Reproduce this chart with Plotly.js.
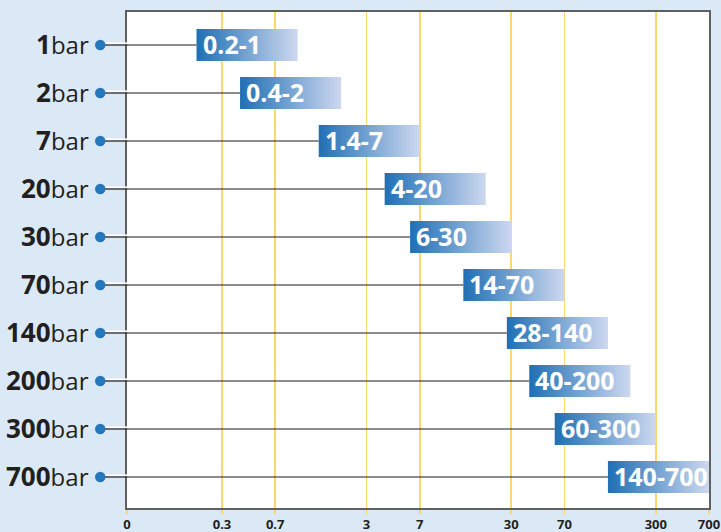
<!DOCTYPE html>
<html>
<head>
<meta charset="utf-8">
<script src="https://cdn.plot.ly/plotly-3.0.1.min.js"></script>
<style>html,body{margin:0;padding:0;background:#dbe9f6;}#chart{width:721px;height:532px;}</style>
</head>
<body>
<div id="chart"></div>
<script>
// ---- data ----
const pressureLabels = ['1','2','7','20','30','70','140','200','300','700'];
const rangeLow  = [0.2, 0.4, 1.4, 4, 6, 14, 28, 40, 60, 140];
const rangeHigh = [1, 2, 7, 20, 30, 70, 140, 200, 300, 700];
const rangeText = ['0.2-1','0.4-2','1.4-7','4-20','6-30','14-70','28-140','40-200','60-300','140-700'];
const tickValues = [0.3, 0.7, 3, 7, 30, 70, 300, 700];
const tickLabels = ['0.3','0.7','3','7','30','70','300','700'];
const axisMin = 0.0661;
const axisMax = 700;

// ---- styles ----
const FONT = 'Open Sans, Noto Sans, sans-serif';
const TEXT_COL = '#231f20';
const BAR_HALF = 0.333;
const gradient = [[0, '#1f6fb5'], [1, '#cdd8ef']];

const traces = [];
const annotations = [];
const shapes = [];

pressureLabels.forEach((p, i) => {
  // connector line inside plot
  traces.push({
    x: [axisMin, rangeLow[i]], y: [i, i],
    mode: 'lines', line: {color: '#1a1a1a', width: 1.2},
    hoverinfo: 'skip', showlegend: false
  });
});

pressureLabels.forEach((p, i) => {
  const lo = rangeLow[i], hi = rangeHigh[i];
  traces.push({
    x: [lo, hi, hi, lo, lo],
    y: [i - BAR_HALF, i - BAR_HALF, i + BAR_HALF, i + BAR_HALF, i - BAR_HALF],
    mode: 'lines', line: {width: 0, color: 'rgba(0,0,0,0)'},
    fill: 'toself',
    fillgradient: {type: 'horizontal', colorscale: gradient},
    hoverinfo: 'skip', showlegend: false
  });
  annotations.push({
    x: Math.log10(lo), y: i, xref: 'x', yref: 'y',
    text: rangeText[i], showarrow: false,
    xanchor: 'left', yanchor: 'middle', xshift: 4, yshift: 1,
    font: {family: FONT, size: 25, color: '#ffffff', weight: 700}
  });
  annotations.push({
    x: 0, y: i, xref: 'paper', yref: 'y',
    text: '<span style="font-size:26px;font-weight:bold">' + p + '</span>bar', showarrow: false,
    xanchor: 'right', yanchor: 'middle', xshift: -36, yshift: 1,
    font: {family: FONT, size: 24, color: TEXT_COL}
  });
  // margin connector (white highlight + dark line) and dot
  shapes.push({
    type: 'line', xref: 'paper', yref: 'y', xsizemode: 'pixel', xanchor: 0,
    ysizemode: 'pixel', yanchor: i, x0: -27, x1: 0, y0: 1.6, y1: 1.6,
    line: {color: '#ffffff', width: 2}
  });
  shapes.push({
    type: 'line', xref: 'paper', yref: 'y', xsizemode: 'pixel', xanchor: 0,
    ysizemode: 'pixel', yanchor: i, x0: -27, x1: 0, y0: 0, y1: 0,
    line: {color: '#1a1a1a', width: 1.2}
  });
  shapes.push({
    type: 'circle', xref: 'paper', yref: 'y', xsizemode: 'pixel', xanchor: 0,
    ysizemode: 'pixel', yanchor: i, x0: -32, x1: -21.5, y0: -5.2, y1: 5.2,
    fillcolor: '#2777bb', line: {width: 0}
  });
});

const layout = {
  width: 721, height: 532,
  margin: {l: 127, r: 12, t: 12, b: 24, pad: 0},
  paper_bgcolor: '#dbe9f6', plot_bgcolor: '#ffffff',
  showlegend: false,
  xaxis: {
    type: 'log',
    range: [Math.log10(axisMin), Math.log10(axisMax)],
    tickmode: 'array',
    tickvals: [axisMin].concat(tickValues),
    ticktext: ['0'].concat(tickLabels),
    showgrid: true, gridcolor: '#fcd770', gridwidth: 1.8,
    ticks: 'outside', ticklen: 4, tickcolor: '#fcd770', tickwidth: 1.8,
    tickfont: {family: FONT, size: 13, color: TEXT_COL, weight: 700},
    showline: true, mirror: true, linecolor: '#5f6062', linewidth: 1.6,
    zeroline: false, fixedrange: true
  },
  yaxis: {
    range: [9.646, -0.6875],
    showgrid: false, zeroline: false, showticklabels: false, ticks: '',
    showline: true, mirror: true, linecolor: '#5f6062', linewidth: 1.6,
    fixedrange: true
  },
  annotations: annotations,
  shapes: shapes
};

Plotly.newPlot('chart', traces, layout, {displayModeBar: false, staticPlot: true});
</script>
</body>
</html>
